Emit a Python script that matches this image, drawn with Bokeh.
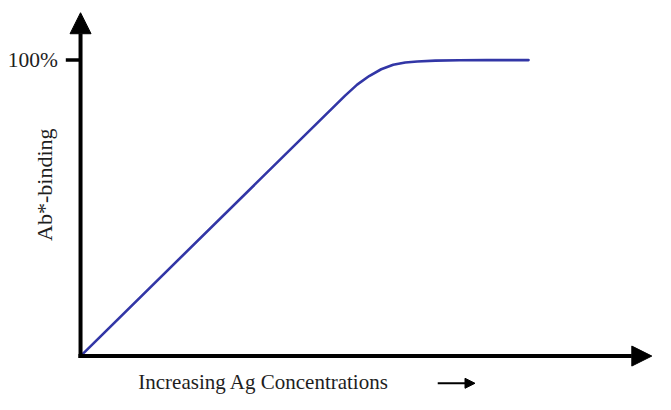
import math
from bokeh.plotting import figure
from bokeh.models import Range1d, Arrow, NormalHead, ColumnDataSource
from bokeh.core.properties import value
from bokeh.embed import file_html
from bokeh.resources import INLINE

# ---- data ----
concentration = [0.0, 8.8, 9.2, 9.6, 10.0, 10.4, 10.8, 11.2, 11.8, 12.6, 13.5, 14.9]
binding_pct = [0.0, 88.0, 91.7, 94.6, 96.9, 98.4, 99.2, 99.5, 99.8, 99.95, 100.0, 100.0]
y_ticks = [100]
y_tick_labels = ["100%"]
x_label = "Increasing Ag Concentrations"
y_label = "Ab*-binding"

# ---- layout ----
W, H = 655, 394
x_start, x_end = -2.662, 19.123
y_start, y_end = -12.99, 120.13

FONT = value("Liberation Serif")
TXT = "#1e1e1e"

p = figure(width=W, height=H, output_backend="svg", toolbar_location=None,
           x_range=Range1d(x_start, x_end), y_range=Range1d(y_start, y_end),
           min_border=0, background_fill_color="white", border_fill_color="white")
p.axis.visible = False
p.grid.visible = False
p.outline_line_color = None

# axes with arrow heads
p.add_layout(Arrow(x_start=-0.07, y_start=0, x_end=19.0, y_end=0,
                   line_width=4, line_color="black",
                   end=NormalHead(size=20, fill_color="black", line_color="black", line_width=1)))
p.add_layout(Arrow(x_start=0, y_start=-0.65, x_end=0, y_end=116.0,
                   line_width=4, line_color="black",
                   end=NormalHead(size=21, fill_color="black", line_color="black", line_width=1)))

# y tick(s)
tick_src = ColumnDataSource(dict(x0=[-0.49] * len(y_ticks), x1=[0.0] * len(y_ticks),
                                 y=y_ticks, label=y_tick_labels))
p.segment(x0="x0", y0="y", x1="x1", y1="y", source=tick_src, line_width=3.5, line_color="black")
p.text(x=-0.75, y="y", text="label", source=tick_src, text_font=FONT,
       text_font_size=value("21.5px"), text_align="right", text_baseline="middle",
       text_color=TXT)

# curve
p.line(concentration, binding_pct, line_width=2.6, line_color="#3236a6", line_join="round",
       line_cap="round")

# axis labels
p.text(x=[-1.2], y=[57.9], text=[y_label], angle=math.pi / 2, text_font=FONT,
       text_font_size=value("22px"), text_align="center", text_baseline="middle",
       text_color=TXT)
p.text(x=[1.92], y=[-8.65], text=[x_label], text_font=FONT,
       text_font_size=value("21px"), text_align="left", text_baseline="middle",
       text_color=TXT)
p.add_layout(Arrow(x_start=11.88, y_start=-9.2, x_end=13.12, y_end=-9.2,
                   line_width=2, line_color="black",
                   end=NormalHead(size=10, fill_color="black", line_color="black", line_width=1)))

open("out.html", "w").write(file_html(p, INLINE))
